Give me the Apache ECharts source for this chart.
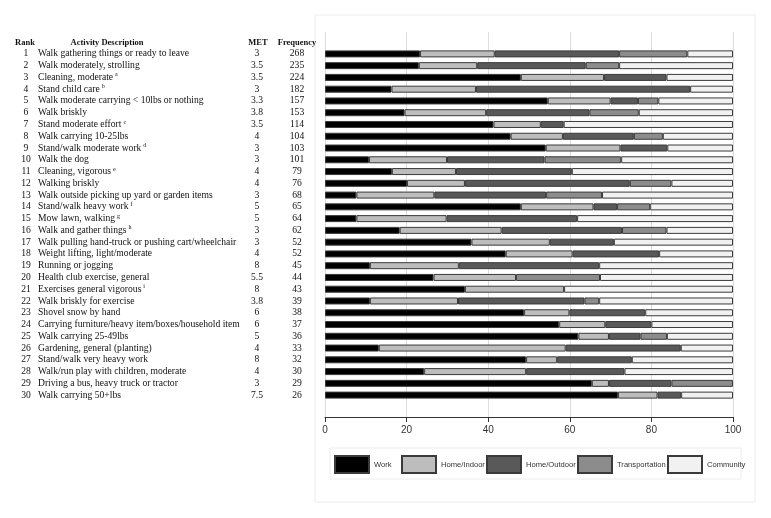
<!DOCTYPE html>
<html><head><meta charset="utf-8">
<script src="https://cdn.jsdelivr.net/npm/echarts@6/dist/echarts.min.js"></script>
<style>html,body{margin:0;padding:0;background:#fff}#c{width:771px;height:518px}</style>
</head><body><div id="c"></div>
<script>
var ranks = [1,2,3,4,5,6,7,8,9,10,11,12,13,14,15,16,17,18,19,20,21,22,23,24,25,26,27,28,29,30];
var activities = [
 "Walk gathering things or ready to leave","Walk moderately, strolling","Cleaning, moderate","Stand child care",
 "Walk moderate carrying < 10lbs or nothing","Walk briskly","Stand moderate effort","Walk carrying 10-25lbs",
 "Stand/walk moderate work","Walk the dog","Cleaning, vigorous","Walking briskly",
 "Walk outside picking up yard or garden items","Stand/walk heavy work","Mow lawn, walking","Walk and gather things",
 "Walk pulling hand-truck or pushing cart/wheelchair","Weight lifting, light/moderate","Running or jogging",
 "Health club exercise, general","Exercises general vigorous","Walk briskly for exercise","Shovel snow by hand",
 "Carrying furniture/heavy item/boxes/household item","Walk carrying 25-49lbs","Gardening, general (planting)",
 "Stand/walk very heavy work","Walk/run play with children, moderate","Driving a bus, heavy truck or tractor","Walk carrying 50+lbs"];
var notes = ["","","a","b","","","c","","d","","e","","","f","g","h","","","","","i","","","","","","","","",""];
var met = ["3","3.5","3.5","3","3.3","3.8","3.5","4","3","3","4","4","3","5","5","3","3","4","8","5.5","8","3.8","6","6","5","4","8","4","3","7.5"];
var frequency = [268,235,224,182,157,153,114,104,103,101,79,76,68,65,64,62,52,52,45,44,43,39,38,37,36,33,32,30,29,26];
var seriesNames = ["Work","Home/Indoor","Home/Outdoor","Transportation","Community"];
var work = [23.3,23.0,48.0,16.3,54.6,19.5,41.3,45.5,54.1,10.8,16.4,20.1,7.7,48.0,7.7,18.3,35.9,44.3,11.0,26.6,34.3,11.0,48.8,57.4,62.1,13.2,49.3,24.3,65.4,71.8];
var homeIndoor = [18.3,14.3,20.4,20.7,15.4,20.0,11.6,12.8,18.3,19.1,15.7,14.2,19.1,17.8,22.1,25.0,19.2,16.4,21.8,20.2,24.3,21.6,11.1,11.3,7.5,45.8,7.6,25.0,4.2,9.7];
var homeOutdoor = [30.5,26.6,15.3,52.5,6.7,25.3,5.6,17.4,11.5,23.9,28.4,40.4,27.4,5.8,32.0,29.5,15.7,21.2,34.4,0,0,31.0,18.6,11.3,7.7,28.2,18.3,24.1,15.3,5.8];
var transportation = [16.7,8.2,0,0,5.0,12.1,0,7.1,0,18.8,0,10.2,13.7,8.1,0,10.9,0,0,0,20.6,0,3.6,0,0,6.5,0,0,0,15.1,0];
var community = [11.2,27.9,16.3,10.5,18.3,23.1,41.5,17.2,16.1,27.4,39.5,15.1,32.1,20.3,38.2,16.3,29.2,18.1,32.8,32.6,41.4,32.8,21.5,20.0,16.2,12.8,24.8,26.6,0,12.7];
var xTicks = [0,20,40,60,80,100];

var colors = ["#000000","#bdbdbd","#595959","#8c8c8c","#f1f1f1"];
var values = [work, homeIndoor, homeOutdoor, transportation, community];
var serif = "Liberation Serif, Times New Roman, serif";
var sans = "Liberation Sans, Arial, sans-serif";
var legendLefts = [334, 401, 486, 577, 667];

var chart = echarts.init(document.getElementById('c'));
var series = seriesNames.map(function(n, k){
  return {name:n, type:'bar', stack:'all', xAxisIndex:1, yAxisIndex:1, barWidth:7,
    data: values[k].map(function(v){return v === 0 ? '-' : v;}),
    itemStyle:{color:colors[k], borderColor:'#3a3a3a', borderWidth:1}, silent:true};
});
var legends = seriesNames.map(function(n, k){
  return {data:[n], left:legendLefts[k], top:455, padding:0, itemWidth:34, itemHeight:17,
    icon:'rect', selectedMode:false,
    textStyle:{fontFamily:sans, fontSize:7.6, color:'#333'}};
});
chart.setOption({
  animation:false,
  backgroundColor:'#fff',
  grid:[
    {left:325, right:38, top:32, bottom:101},
    {left:325, right:38, top:48, bottom:117}
  ],
  xAxis:[
    {gridIndex:0, type:'value', min:0, max:100, interval:20,
     axisLine:{show:true, lineStyle:{color:'#333'}},
     axisTick:{show:true, length:5, lineStyle:{color:'#333'}},
     axisLabel:{margin:8, color:'#333', fontFamily:sans, fontSize:10,
       formatter:function(v){return xTicks.indexOf(v) >= 0 ? String(v) : '';}},
     splitLine:{show:true, lineStyle:{color:'#dcdcdc', width:1}}},
    {gridIndex:1, type:'value', min:0, max:100, show:false}
  ],
  yAxis:[
    {gridIndex:0, type:'value', show:false},
    {gridIndex:1, type:'category', inverse:true, position:'left', offset:0, data:activities,
     axisLine:{show:false}, axisTick:{show:false},
     axisLabel:{interval:0, margin:310, align:'left',
       formatter:function(v, i){
         var s = '{r|' + ranks[i] + '}{d|' + activities[i] + '}';
         if (notes[i]) s += '{s|' + notes[i] + '}';
         return s;
       },
       rich:{
         r:{width:22, align:'center', fontFamily:serif, fontSize:9.6, color:'#111'},
         d:{fontFamily:serif, fontSize:9.6, color:'#111', padding:[0,0,0,1]},
         s:{fontFamily:serif, fontSize:6, color:'#111', padding:[0,0,5,2]}
       }}},
    {gridIndex:1, type:'category', inverse:true, position:'left', offset:0, data:activities,
     axisLine:{show:false}, axisTick:{show:false},
     axisLabel:{interval:0, margin:8, align:'right',
       formatter:function(v, i){ return '{m|' + met[i] + '}{f|' + frequency[i] + '}'; },
       rich:{
         m:{width:40, align:'center', fontFamily:serif, fontSize:9.6, color:'#111'},
         f:{width:40, align:'center', fontFamily:serif, fontSize:9.6, color:'#111'}
       }}}
  ],
  legend:legends,
  graphic:[
    {type:'rect', shape:{x:315, y:15, width:440, height:487}, style:{fill:'none', stroke:'#ececec', lineWidth:1}, silent:true, z:-1},
    {type:'rect', shape:{x:330, y:448, width:411, height:31}, style:{fill:'none', stroke:'#ececec', lineWidth:1}, silent:true},
    {type:'text', x:25, y:43, style:{text:'Rank', font:'bold 8.5px ' + serif, fill:'#111', textAlign:'center', textVerticalAlign:'middle'}},
    {type:'text', x:107, y:43, style:{text:'Activity Description', font:'bold 8.5px ' + serif, fill:'#111', textAlign:'center', textVerticalAlign:'middle'}},
    {type:'text', x:258, y:43, style:{text:'MET', font:'bold 8.5px ' + serif, fill:'#111', textAlign:'center', textVerticalAlign:'middle'}},
    {type:'text', x:297, y:43, style:{text:'Frequency', font:'bold 8.5px ' + serif, fill:'#111', textAlign:'center', textVerticalAlign:'middle'}}
  ],
  series:series
});
</script></body></html>
